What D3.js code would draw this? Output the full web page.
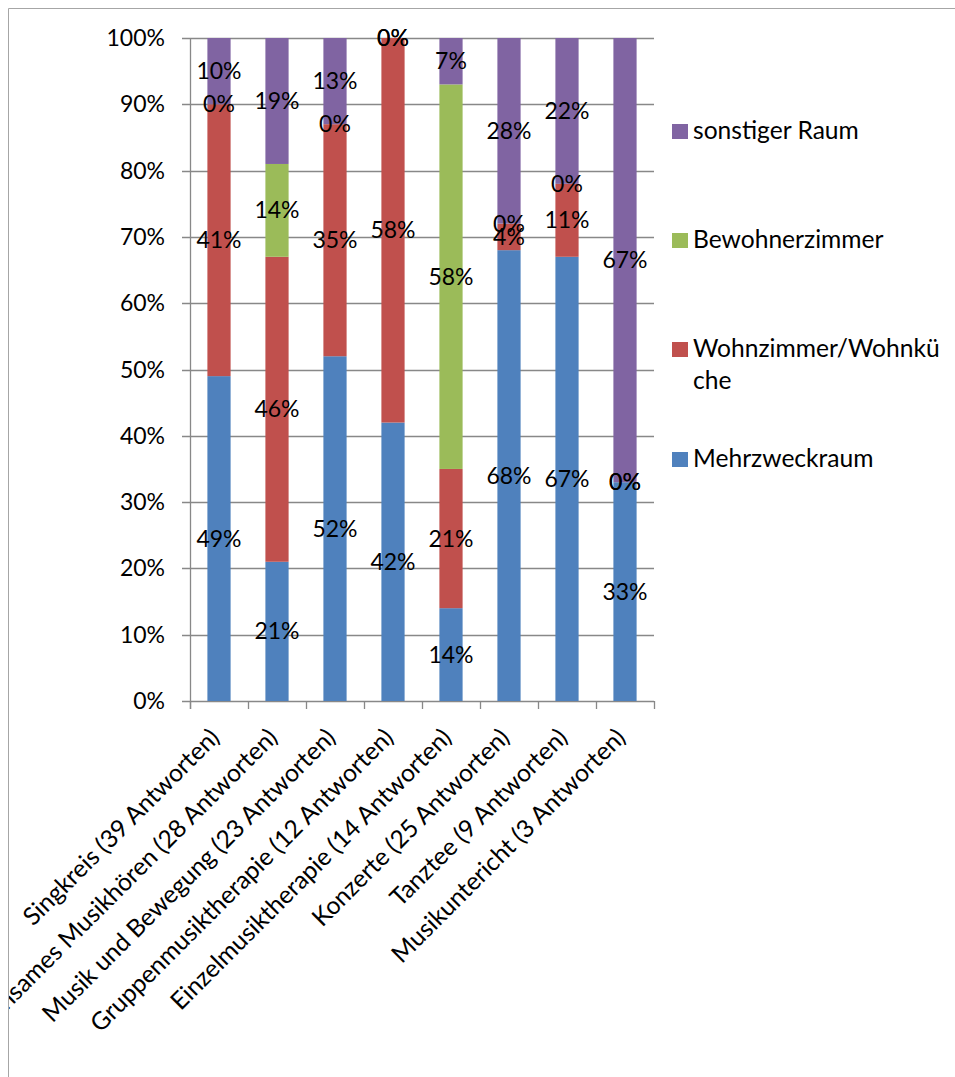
<!DOCTYPE html>
<html><head><meta charset="utf-8">
<script src="https://cdn.jsdelivr.net/npm/d3@7"></script>
<style>
body{margin:0;background:#fff}
svg{display:block}
text{font-family:Lato,"Open Sans",sans-serif;fill:#000}
</style></head><body>
<svg id="c" width="955" height="1077"></svg>
<script>
const categories = [
  "Singkreis (39 Antworten)",
  "Gemeinsames Musikhören (28 Antworten)",
  "Musik und Bewegung (23 Antworten)",
  "Gruppenmusiktherapie (12 Antworten)",
  "Einzelmusiktherapie (14 Antworten)",
  "Konzerte (25 Antworten)",
  "Tanztee (9 Antworten)",
  "Musikuntericht (3 Antworten)"
];
const seriesNames = ["Mehrzweckraum", "Wohnzimmer/Wohnküche", "Bewohnerzimmer", "sonstiger Raum"];
const mehrzweckraum  = [49, 21, 52, 42, 14, 68, 67, 33];
const wohnzimmer     = [41, 46, 35, 58, 21, 4, 11, 0];
const bewohnerzimmer = [0, 14, 0, 0, 58, 0, 0, 0];
const sonstigerRaum  = [10, 19, 13, 0, 7, 28, 22, 67];
const yTicks = [0, 10, 20, 30, 40, 50, 60, 70, 80, 90, 100];
const legendLines = [["sonstiger Raum"], ["Bewohnerzimmer"], ["Wohnzimmer/Wohnkü", "che"], ["Mehrzweckraum"]];
const colors = ["#4F81BD", "#C0504D", "#9BBB59", "#8064A2"];

(function () {
const svg = d3.select("#c");
const FS = 23, FS2 = 24.6;
const pLeft = 190, pRight = 654, pTop = 38, pBottom = 701;

svg.append("defs").append("clipPath").attr("id", "clip")
  .append("rect").attr("x", 9).attr("y", 9).attr("width", 960).attr("height", 1080);
svg.append("path").attr("d", "M8.5,1077 V8.5 H955").attr("fill", "none").attr("stroke", "#a6a6a6").attr("stroke-width", 1);
const g = svg.append("g").attr("clip-path", "url(#clip)");

const x = d3.scaleBand().domain(categories).range([pLeft, pRight]).paddingInner(0.6).paddingOuter(0.3);
const y = d3.scaleLinear().domain([0, 100]).range([pBottom, pTop]);

g.append("g").selectAll("line").data(yTicks).join("line")
  .attr("x1", pLeft - 8).attr("x2", pRight)
  .attr("y1", d => Math.round(y(d)) + 0.5).attr("y2", d => Math.round(y(d)) + 0.5)
  .attr("stroke", "#888").attr("stroke-width", 1.3);

g.append("g").selectAll("text").data(yTicks).join("text")
  .attr("x", 165).attr("y", d => y(d)).attr("dy", "0.35em")
  .attr("text-anchor", "end").attr("font-size", FS)
  .text(d => d + "%");

const table = categories.map((c, i) => ({
  cat: c,
  [seriesNames[0]]: mehrzweckraum[i],
  [seriesNames[1]]: wohnzimmer[i],
  [seriesNames[2]]: bewohnerzimmer[i],
  [seriesNames[3]]: sonstigerRaum[i]
}));
const stacked = d3.stack().keys(seriesNames)(table);

stacked.forEach((s, si) => {
  g.append("g").selectAll("rect").data(s).join("rect")
    .attr("x", d => x(d.data.cat)).attr("width", x.bandwidth())
    .attr("y", d => y(d[1])).attr("height", d => y(d[0]) - y(d[1]))
    .attr("fill", colors[si]);
});

const bounds = d3.range(categories.length + 1).map(i => pLeft + i * (pRight - pLeft) / categories.length);
g.append("line").attr("x1", pLeft + 0.5).attr("x2", pLeft + 0.5).attr("y1", pTop).attr("y2", pBottom + 8)
  .attr("stroke", "#888").attr("stroke-width", 1.3);
g.append("g").selectAll("line").data(bounds).join("line")
  .attr("x1", d => Math.round(d) + 0.5).attr("x2", d => Math.round(d) + 0.5)
  .attr("y1", pBottom).attr("y2", pBottom + 8)
  .attr("stroke", "#888").attr("stroke-width", 1.3);

stacked.forEach((s, si) => {
  g.append("g").selectAll("text").data(s).join("text")
    .attr("x", d => x(d.data.cat) + x.bandwidth() / 2)
    .attr("y", d => y((d[0] + d[1]) / 2)).attr("dy", "0.35em")
    .attr("text-anchor", "middle").attr("font-size", FS)
    .text(d => (d[1] - d[0]) + "%");
});

g.append("g").selectAll("text").data(categories).join("text")
  .attr("transform", d => `translate(${x(d) + x.bandwidth() / 2 + 2},${pBottom + 38}) rotate(-45)`)
  .attr("text-anchor", "end").attr("font-size", FS2)
  .text(d => d);

const legendBase = [139, 248, 357, 467];
const lg = g.append("g");
legendLines.forEach((lines, i) => {
  const colorIdx = 3 - i;
  lg.append("rect").attr("x", 672).attr("y", legendBase[i] - 15).attr("width", 16).attr("height", 15)
    .attr("fill", colors[colorIdx]);
  const t = lg.append("text").attr("x", 693).attr("y", legendBase[i]).attr("font-size", FS2);
  lines.forEach((ln, j) => t.append("tspan").attr("x", 693).attr("dy", j === 0 ? 0 : 32).text(ln));
});
})();
</script>
</body></html>
